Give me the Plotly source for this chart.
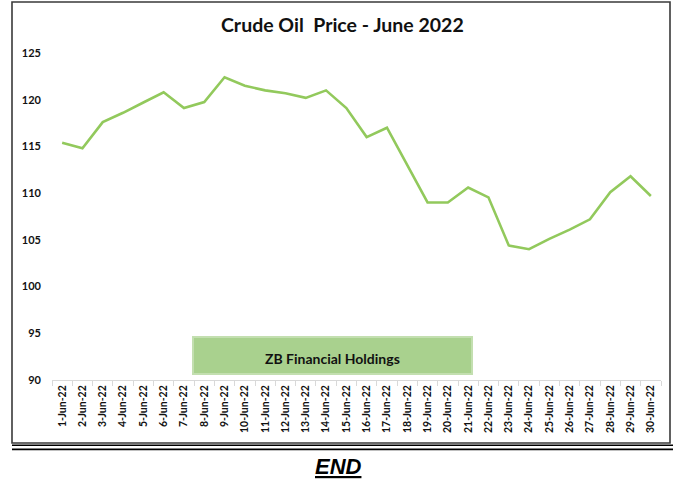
import plotly.graph_objects as go

# Daily crude oil prices, June 2022
dates = [f"{d}-Jun-22" for d in range(1, 31)]
prices = [115.4, 114.8, 117.6, 118.6, 119.7, 120.8, 119.1, 119.75, 122.4, 121.5,
          121.0, 120.7, 120.2, 121.0, 119.1, 116.0, 117.0, 113.0, 109.0, 109.0,
          110.6, 109.55, 104.4, 104.0, 105.1, 106.1, 107.2, 110.1, 111.8, 109.7]
y_ticks = [90, 95, 100, 105, 110, 115, 120, 125]

title_text = "Crude Oil&nbsp; Price - June 2022"
box_text = "ZB Financial Holdings"
footer_text = "END"

W, H = 673, 480
L, R, T, B = 52, 12, 53, 100
PW, PH = W - L - R, H - T - B


def px(x):
    """pixel x -> paper x"""
    return (x - L) / PW


def py(y):
    """pixel y -> paper y"""
    return (H - B - y) / PH


fig = go.Figure()
fig.add_trace(go.Scatter(
    x=dates, y=prices, mode="lines",
    line=dict(color="#92c95c", width=2.6),
    hoverinfo="x+y", showlegend=False,
))

shapes = [
    # outer chart frame
    dict(type="rect", xref="paper", yref="paper",
         x0=px(12), x1=px(670), y0=py(443), y1=py(2),
         line=dict(color="#3a3a3a", width=1.6), fillcolor="rgba(0,0,0,0)", layer="below"),
    # double rule under the chart
    dict(type="line", xref="paper", yref="paper",
         x0=px(12), x1=px(673), y0=py(445.3), y1=py(445.3),
         line=dict(color="#000000", width=1.4)),
    dict(type="line", xref="paper", yref="paper",
         x0=px(12), x1=px(673), y0=py(449.4), y1=py(449.4),
         line=dict(color="#000000", width=1.6)),
    # label box
    dict(type="rect", xref="paper", yref="paper",
         x0=px(193), x1=px(472), y0=py(374), y1=py(337),
         line=dict(color="#c3dfb0", width=2), fillcolor="#a9d18e", layer="above"),
]

annotations = [
    dict(text=f"<b>{title_text}</b>", xref="paper", yref="paper",
         x=px(342), y=py(25), xanchor="center", yanchor="middle", showarrow=False,
         font=dict(family="Lato", size=19.5, color="#111111")),
    dict(text=f"<b>{box_text}</b>", xref="paper", yref="paper",
         x=px(332), y=py(358), xanchor="center", yanchor="middle", showarrow=False,
         font=dict(family="Lato", size=14, color="#111111")),
    dict(text=f"<b><i><u>{footer_text}</u></i></b>", xref="paper", yref="paper",
         x=px(338), y=py(466), xanchor="center", yanchor="middle", showarrow=False,
         font=dict(family="Liberation Sans", size=22, color="#000000")),
]

fig.update_layout(
    width=W, height=H,
    margin=dict(l=L, r=R, t=T, b=B, pad=0),
    paper_bgcolor="white", plot_bgcolor="white",
    shapes=shapes, annotations=annotations,
    xaxis=dict(
        type="category", range=[-0.5, len(dates) - 0.5],
        showgrid=False, zeroline=False,
        showline=True, linecolor="#d9d9d9", linewidth=1,
        ticks="outside", ticklen=5, tickcolor="#d9d9d9", tickson="boundaries",
        tickangle=-90, tickfont=dict(family="Lato", size=10.5, color="#111111"),
        tickprefix="<b>", ticksuffix="</b>",
    ),
    yaxis=dict(
        range=[90, 125], tickvals=y_ticks, ticktext=[f"<b>{v}</b>" for v in y_ticks],
        showgrid=False, zeroline=False, showline=False,
        ticklabelstandoff=10,
        tickfont=dict(family="Lato", size=11, color="#111111"),
    ),
)

fig.write_html("out.html")
